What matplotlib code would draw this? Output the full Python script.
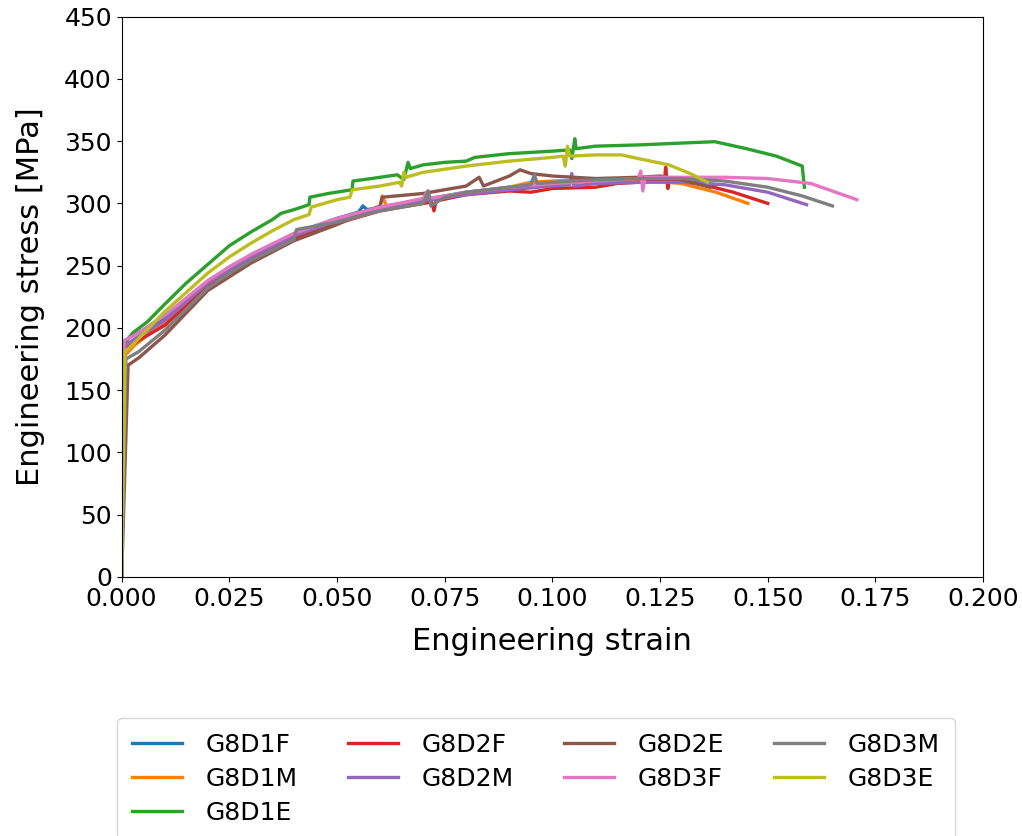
import numpy as np
import matplotlib.pyplot as plt

labels = ["G8D1F", "G8D1M", "G8D1E", "G8D2F", "G8D2M", "G8D2E", "G8D3F", "G8D3M", "G8D3E"]

# strain / stress [MPa]
g8d1f_x = [0, 0.0006, 0.002, 0.005, 0.01, 0.015, 0.02, 0.025, 0.03, 0.035, 0.04, 0.045, 0.05, 0.055, 0.056, 0.057, 0.065, 0.07, 0.075, 0.08, 0.085, 0.09, 0.095, 0.1, 0.11, 0.12, 0.13, 0.138]
g8d1f_y = [0, 188, 193, 198, 208, 222, 236, 249, 258, 267, 275, 282, 288, 293, 298, 295, 300, 303, 306, 309, 311, 313, 315, 316, 318, 319, 318, 315]

g8d1m_x = [0, 0.0008, 0.003, 0.01, 0.02, 0.025, 0.03, 0.04, 0.05, 0.06, 0.0605, 0.0615, 0.07, 0.08, 0.09, 0.095, 0.1, 0.11, 0.12, 0.13, 0.138, 0.1454]
g8d1m_y = [0, 178, 186, 205, 235, 247, 257, 274, 287, 297, 306, 298, 303, 308, 313, 317, 318, 319, 319, 316, 309, 300]

g8d1e_x = [0, 0.0008, 0.0026, 0.006, 0.01, 0.015, 0.02, 0.025, 0.03, 0.035, 0.037, 0.04, 0.0435, 0.0437, 0.048, 0.0535, 0.0537, 0.058, 0.064, 0.0655, 0.0665, 0.067, 0.07, 0.075, 0.08, 0.082, 0.09, 0.1, 0.104, 0.1045, 0.1052, 0.1055, 0.11, 0.12, 0.13, 0.1377, 0.145, 0.152, 0.158, 0.1585]
g8d1e_y = [0, 188, 196, 205, 219, 236, 251, 266, 277, 287, 292, 295, 299, 305, 308, 311, 318, 320, 323, 319, 333, 328, 331, 333, 334, 337, 340, 342, 343, 336, 352, 344, 346, 347, 348.5, 349.6, 344, 338, 330, 313]

g8d2f_x = [0, 0.0008, 0.003, 0.01, 0.02, 0.025, 0.03, 0.04, 0.05, 0.06, 0.07, 0.072, 0.0725, 0.073, 0.08, 0.09, 0.095, 0.1, 0.11, 0.115, 0.12, 0.126, 0.1263, 0.1268, 0.1272, 0.135, 0.142, 0.15]
g8d2f_y = [0, 183, 188, 202, 233, 245, 255, 272, 284, 294, 300, 301, 294, 302, 307, 310, 309, 312, 313, 316, 317, 318, 329, 312, 320, 315, 309, 300]

g8d2m_x = [0, 0.0008, 0.003, 0.01, 0.02, 0.025, 0.03, 0.04, 0.05, 0.06, 0.07, 0.08, 0.09, 0.1, 0.104, 0.1045, 0.105, 0.11, 0.12, 0.13, 0.14, 0.15, 0.159]
g8d2m_y = [0, 186, 191, 206, 236, 247, 257, 274, 286, 295, 302, 307, 311, 314, 315, 324, 314, 316, 317, 317, 315, 309, 299]

g8d2e_x = [0, 0.0015, 0.004, 0.01, 0.02, 0.025, 0.03, 0.04, 0.05, 0.06, 0.0605, 0.07, 0.08, 0.083, 0.084, 0.09, 0.0925, 0.095, 0.1, 0.11, 0.12, 0.125, 0.13, 0.1366]
g8d2e_y = [0, 170, 176, 194, 230, 241, 252, 270, 283, 298, 305, 308, 314, 321, 314, 322, 327, 324, 322, 320, 321, 322, 319, 313]

g8d3f_x = [0, 0.0006, 0.003, 0.01, 0.02, 0.025, 0.03, 0.04, 0.05, 0.06, 0.07, 0.071, 0.0715, 0.08, 0.09, 0.1, 0.11, 0.12, 0.1205, 0.121, 0.1215, 0.13, 0.14, 0.15, 0.16, 0.1707]
g8d3f_y = [0, 190, 194, 210, 238, 249, 259, 276, 288, 297, 304, 310, 304, 309, 313, 316, 318, 320, 326, 310, 321, 321, 321, 320, 316, 303]

g8d3m_x = [0, 0.001, 0.004, 0.01, 0.02, 0.025, 0.03, 0.04, 0.0406, 0.05, 0.06, 0.07, 0.0712, 0.0718, 0.075, 0.08, 0.09, 0.095, 0.0958, 0.0965, 0.1, 0.11, 0.12, 0.13, 0.14, 0.15, 0.158, 0.165]
g8d3m_y = [0, 175, 181, 198, 232, 244, 254, 271, 279, 285, 294, 300, 310, 298, 305, 309, 313, 315, 323, 316, 317, 319, 320, 320, 318, 313, 306, 298]

g8d3e_x = [0, 0.0008, 0.003, 0.01, 0.02, 0.025, 0.03, 0.035, 0.04, 0.0435, 0.044, 0.05, 0.053, 0.0535, 0.06, 0.0645, 0.065, 0.0655, 0.066, 0.07, 0.08, 0.09, 0.1, 0.1025, 0.103, 0.1035, 0.104, 0.11, 0.116, 0.12, 0.127, 0.132, 0.136]
g8d3e_y = [0, 181, 188, 213, 244, 257, 268, 278, 287, 291, 297, 303, 305, 311, 314, 317, 314, 325, 321, 325, 330, 334, 337, 338, 330, 346, 338, 339, 339, 336, 331, 324, 317]

xs = [g8d1f_x, g8d1m_x, g8d1e_x, g8d2f_x, g8d2m_x, g8d2e_x, g8d3f_x, g8d3m_x, g8d3e_x]
ys = [g8d1f_y, g8d1m_y, g8d1e_y, g8d2f_y, g8d2m_y, g8d2e_y, g8d3f_y, g8d3m_y, g8d3e_y]

fig = plt.figure(figsize=(10.22, 8.36), dpi=100)
ax = fig.add_axes([0.119, 0.310, 0.843, 0.670])

for x, y, lab in zip(xs, ys, labels):
    ax.plot(x, y, label=lab, linewidth=2.4)

ax.set_xlim(0, 0.2)
ax.set_ylim(0, 450)
ax.set_xticks(np.arange(0, 0.2001, 0.025))
ax.set_yticks(np.arange(0, 451, 50))
ax.tick_params(labelsize=18)
ax.set_xlabel("Engineering strain", fontsize=22, labelpad=12)
ax.set_ylabel("Engineering stress [MPa]", fontsize=22, labelpad=14)

fig.legend(loc="upper left", bbox_to_anchor=(0.1145, 0.141), ncol=4, fontsize=18,
           borderaxespad=0, borderpad=0.6, labelspacing=0.4, handlelength=2.0,
           handletextpad=0.95, columnspacing=2.0)

fig.savefig("out.png", dpi=100)
